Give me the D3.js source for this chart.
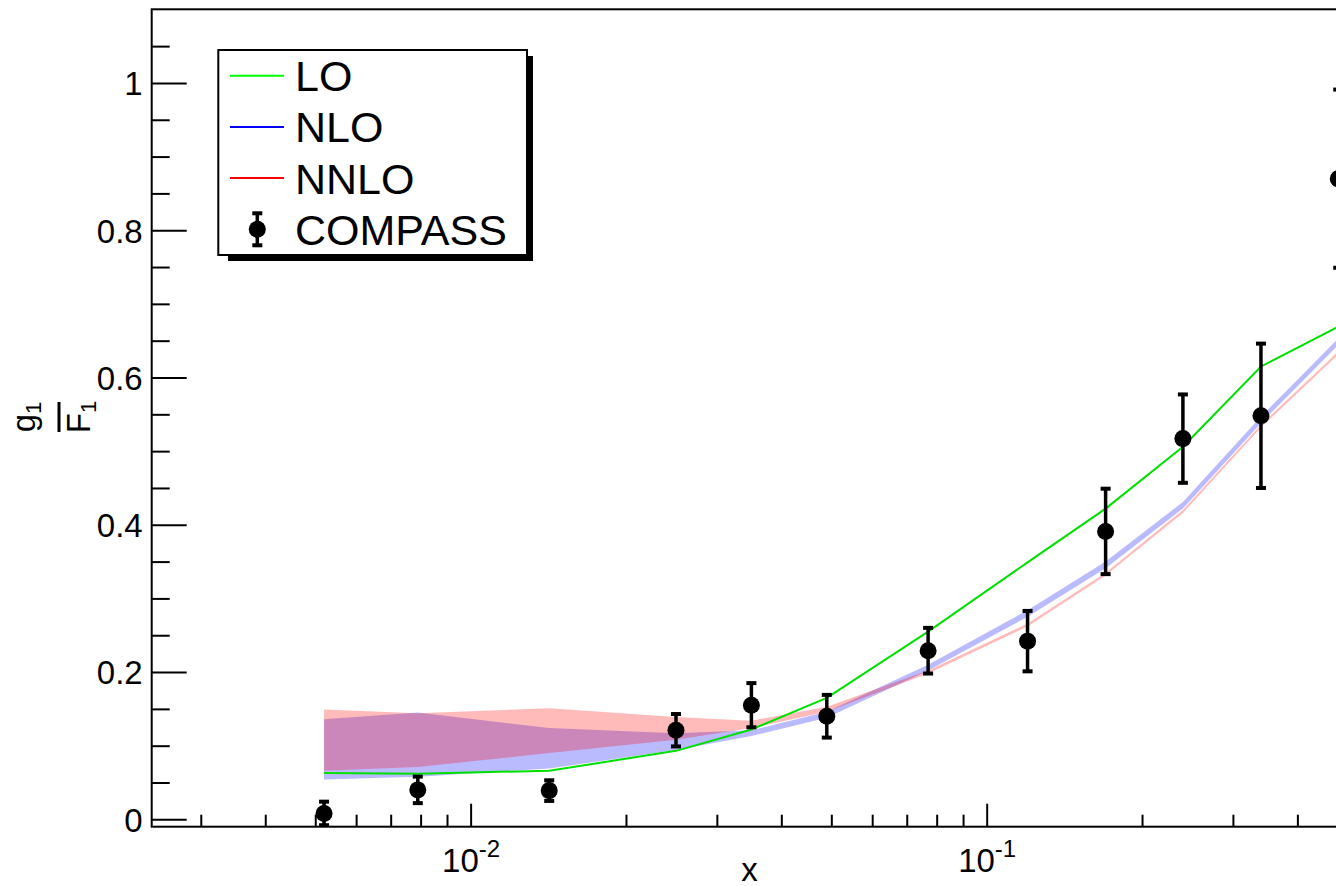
<!DOCTYPE html>
<html>
<head>
<meta charset="utf-8">
<script src="https://cdn.jsdelivr.net/npm/d3@7"></script>
<style>
  body { margin: 0; background: #fff; }
  svg { display: block; font-family: "Liberation Sans", Arial, sans-serif; }
</style>
</head>
<body>
<div id="chart"></div>
<script>
// x bins (COMPASS kinematics)
const xBins = [0.0052, 0.0079, 0.0142, 0.025, 0.035, 0.049, 0.077, 0.12, 0.17, 0.24, 0.34, 0.48];

// COMPASS data and errors
const compassVal = [0.008, 0.040, 0.039, 0.121, 0.155, 0.140, 0.229, 0.242, 0.391, 0.517, 0.548, 0.870];
const compassErr = [0.016, 0.018, 0.014, 0.022, 0.030, 0.029, 0.031, 0.041, 0.058, 0.060, 0.098, 0.121];

// LO curve
const loVal = [0.063, 0.062, 0.066, 0.093, 0.122, 0.165, 0.255, 0.349, 0.422, 0.506, 0.615, 0.669];

// NLO and NNLO bands (lower / upper edge)
const nloLow   = [0.054, 0.058, 0.069, 0.094, 0.113, 0.138, 0.202, 0.275, 0.341, 0.422, 0.538, 0.644];
const nloHigh  = [0.136, 0.145, 0.124, 0.117, 0.121, 0.146, 0.210, 0.284, 0.350, 0.431, 0.547, 0.653];
const nnloLow  = [0.066, 0.071, 0.090, 0.108, 0.124, 0.146, 0.198, 0.262, 0.331, 0.416, 0.532, 0.631];
const nnloHigh = [0.149, 0.144, 0.151, 0.139, 0.134, 0.153, 0.202, 0.266, 0.335, 0.420, 0.536, 0.635];

// axis ticks
const yTicks = [0, 0.2, 0.4, 0.6, 0.8, 1];
const xTicks = [0.01, 0.1];

// legend
const legendNames = ["LO", "NLO", "NNLO", "COMPASS"];
const legendColors = ["#00ff00", "#0000ff", "#ff0000", "#000"];

let width = 1336,
  height = 886,
  margin = ({ top: 9.3, right: -11.4, bottom: 59.3, left: 151.7 });

let x = d3.scaleLog()
  .domain([0.00241, 0.5])
  .range([margin.left, width - margin.right]);

let y = d3.scaleLinear()
  .domain([-0.01, 1.1])
  .range([height - margin.bottom, margin.top]);

const svg = d3.select("#chart")
  .append("svg")
  .attr("width", width)
  .attr("height", height)
  .attr("viewBox", [0, 0, width, height]);

svg.append("defs").append("clipPath")
  .attr("id", "frame")
  .append("rect")
  .attr("x", margin.left)
  .attr("y", margin.top)
  .attr("width", x.range()[1] - margin.left)
  .attr("height", y.range()[0] - margin.top);

// minor tick values
let yMinor = d3.range(1, 22).map(i => i * 0.05).filter(v => Math.abs(v / 0.2 - Math.round(v / 0.2)) > 1e-6);
let xMinor = [];
[-3, -2, -1].forEach(e => {
  for (let k = 2; k <= 9; k++) {
    let v = k * Math.pow(10, e);
    if (v > x.domain()[0] && v < x.domain()[1]) xMinor.push(v);
  }
});

let yAxis = g => g
  .attr("transform", `translate(${margin.left},0)`)
  .call(d3.axisLeft(y).tickValues(yTicks).tickSize(-35).tickPadding(9).tickFormat(d3.format("~g")))
  .call(g => g.select(".domain").remove())
  .call(g => g.selectAll(".tick line").attr("stroke", "#000").attr("stroke-width", 2))
  .call(g => g.selectAll(".tick text").attr("font-size", 33).attr("fill", "#000").attr("dy", "0.36em"));

let yAxisMinor = g => g
  .attr("transform", `translate(${margin.left},0)`)
  .call(d3.axisLeft(y).tickValues(yMinor).tickSize(-18).tickFormat(""))
  .call(g => g.select(".domain").remove())
  .call(g => g.selectAll(".tick line").attr("stroke", "#000").attr("stroke-width", 2));

let xAxis = g => g
  .attr("transform", `translate(0,${y.range()[0]})`)
  .call(d3.axisBottom(x).tickValues(xTicks).tickSize(-23).tickFormat(""))
  .call(g => g.select(".domain").remove())
  .call(g => g.selectAll(".tick line").attr("stroke", "#000").attr("stroke-width", 2))
  .call(g => g.selectAll(".tick text")
    .attr("y", 45.3).attr("dy", 0)
    .attr("font-size", 33).attr("fill", "#000")
    .each(function(d) {
      let t = d3.select(this);
      t.append("tspan").text("10");
      t.append("tspan").attr("dy", -15).attr("font-size", 24).text("-" + Math.round(-Math.log10(d)));
    }));

let xAxisMinor = g => g
  .attr("transform", `translate(0,${y.range()[0]})`)
  .call(d3.axisBottom(x).tickValues(xMinor).tickSize(-12).tickFormat(""))
  .call(g => g.select(".domain").remove())
  .call(g => g.selectAll(".tick line").attr("stroke", "#000").attr("stroke-width", 2));

// data rows
const rows = xBins.map((v, i) => ({
  x: v, val: compassVal[i], err: compassErr[i], lo: loVal[i],
  nloL: nloLow[i], nloH: nloHigh[i], nnloL: nnloLow[i], nnloH: nnloHigh[i]
}));

const plot = svg.append("g").attr("clip-path", "url(#frame)");

plot.append("path")
  .datum(rows)
  .attr("fill", "#0000ff")
  .attr("fill-opacity", 0.27)
  .attr("d", d3.area().x(d => x(d.x)).y0(d => y(d.nloL)).y1(d => y(d.nloH)));

plot.append("path")
  .datum(rows)
  .attr("fill", "#ff0000")
  .attr("fill-opacity", 0.27)
  .attr("d", d3.area().x(d => x(d.x)).y0(d => y(d.nnloL)).y1(d => y(d.nnloH)));

plot.append("path")
  .datum(rows)
  .attr("fill", "none")
  .attr("stroke", "#00e000")
  .attr("stroke-width", 2)
  .attr("d", d3.line().x(d => x(d.x)).y(d => y(d.lo)));

const pt = plot.selectAll(".pt")
  .data(rows)
  .join("g")
  .attr("class", "pt");

pt.append("line")
  .attr("x1", d => x(d.x)).attr("x2", d => x(d.x))
  .attr("y1", d => y(d.val - d.err)).attr("y2", d => y(d.val + d.err))
  .attr("stroke", "#000").attr("stroke-width", 3.5);

pt.append("rect")
  .attr("x", d => x(d.x) - 5).attr("y", d => y(d.val + d.err) - 2)
  .attr("width", 10).attr("height", 4);

pt.append("rect")
  .attr("x", d => x(d.x) - 5).attr("y", d => y(d.val - d.err) - 2)
  .attr("width", 10).attr("height", 4);

pt.append("circle")
  .attr("cx", d => x(d.x)).attr("cy", d => y(d.val))
  .attr("r", 8.5);

// frame and axes
svg.append("rect")
  .attr("x", margin.left).attr("y", margin.top)
  .attr("width", x.range()[1] - margin.left)
  .attr("height", y.range()[0] - margin.top)
  .attr("fill", "none").attr("stroke", "#000").attr("stroke-width", 2);

svg.append("g").call(yAxisMinor);
svg.append("g").call(yAxis);
svg.append("g").call(xAxisMinor);
svg.append("g").call(xAxis);

// x title
svg.append("text")
  .attr("x", (margin.left + x.range()[1]) / 2)
  .attr("y", 881)
  .attr("text-anchor", "middle")
  .attr("font-size", 33)
  .text("x");

// y title: g1 / F1 as rotated fraction
const yt = svg.append("g")
  .attr("transform", `translate(59,${(y.range()[0] + margin.top) / 2 - 1})rotate(-90)`);
let num = yt.append("text").attr("text-anchor", "middle").attr("y", -24).attr("font-size", 33);
num.append("tspan").text("g");
num.append("tspan").attr("font-size", 22).attr("dy", 6).text("1");
yt.append("line").attr("x1", -15).attr("x2", 15).attr("stroke", "#000").attr("stroke-width", 3);
let den = yt.append("text").attr("text-anchor", "middle").attr("y", 31).attr("font-size", 33);
den.append("tspan").text("F");
den.append("tspan").attr("font-size", 22).attr("dy", 6).text("1");

// legend
const lg = svg.append("g");
lg.append("rect").attr("x", 228).attr("y", 56).attr("width", 305).attr("height", 205).attr("fill", "#000");
lg.append("rect").attr("x", 218.3).attr("y", 50).attr("width", 308.7).attr("height", 205)
  .attr("fill", "#fff").attr("stroke", "#000").attr("stroke-width", 2);

const entry = lg.selectAll(".entry")
  .data(legendNames)
  .join("g")
  .attr("class", "entry")
  .attr("transform", (d, i) => `translate(0,${75.7 + i * 51.2})`);

entry.filter((d, i) => i < 3).append("line")
  .attr("x1", 230).attr("x2", 284)
  .attr("stroke", (d, i) => legendColors[i])
  .attr("stroke-width", 2);

const mk = entry.filter((d, i) => i === 3);
mk.append("line").attr("x1", 257.3).attr("x2", 257.3).attr("y1", -16).attr("y2", 16)
  .attr("stroke", "#000").attr("stroke-width", 3.5);
mk.append("rect").attr("x", 252.3).attr("y", -18).attr("width", 10).attr("height", 4);
mk.append("rect").attr("x", 252.3).attr("y", 14).attr("width", 10).attr("height", 4);
mk.append("circle").attr("cx", 257.3).attr("r", 8.5);

entry.append("text")
  .attr("x", 295)
  .attr("y", 15.5)
  .attr("font-size", 43)
  .text(d => d);
</script>
</body>
</html>
